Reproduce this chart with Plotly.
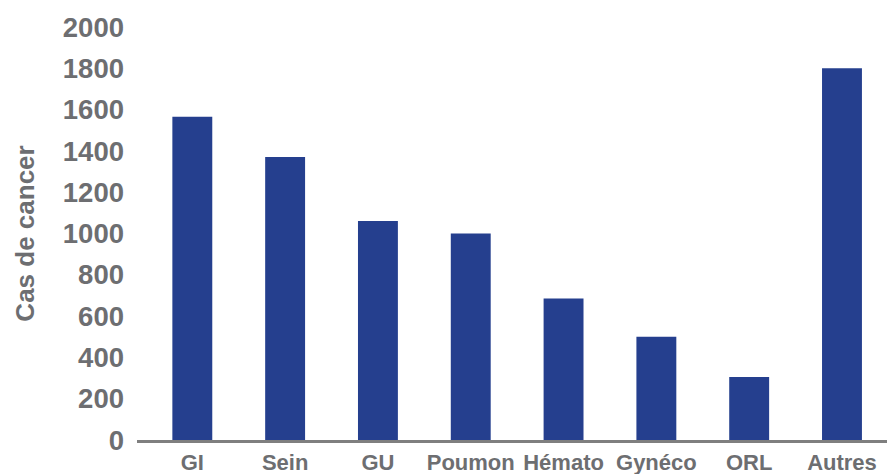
import plotly.graph_objects as go

categories = ["GI", "Sein", "GU", "Poumon", "Hémato", "Gynéco", "ORL", "Autres"]
cases = [1565, 1370, 1060, 1000, 685, 500, 305, 1800]
y_ticks = [0, 200, 400, 600, 800, 1000, 1200, 1400, 1600, 1800, 2000]

BAR = "#253F8E"
GRAY = "#6D6E71"
FONT = "Liberation Sans, Arial, sans-serif"

fig = go.Figure(go.Bar(
    x=list(range(len(categories))),
    y=cases,
    width=0.43,
    marker=dict(color=BAR, line=dict(width=0)),
))

fig.update_layout(
    width=891, height=474,
    margin=dict(l=137, r=4, t=27, b=34, autoexpand=False),
    plot_bgcolor="white", paper_bgcolor="white",
    showlegend=False,
    font=dict(family=FONT, color=GRAY, weight="bold"),
    xaxis=dict(
        range=[-0.596, 7.485],
        tickvals=list(range(len(categories))),
        ticktext=categories,
        tickfont=dict(size=22, family=FONT, color=GRAY, weight="bold"),
        showline=True, linecolor="#7F7F7F", linewidth=2.5,
        showgrid=False, zeroline=False, ticks="",
        ticklabelstandoff=1,
        automargin=False,
    ),
    yaxis=dict(
        range=[0, 2000],
        tickvals=y_ticks,
        tickfont=dict(size=27.5, family=FONT, color=GRAY, weight="bold"),
        showgrid=False, zeroline=False, showline=False, ticks="",
        ticklabelstandoff=12,
        title=dict(text="Cas de cancer", font=dict(size=26, family=FONT, color=GRAY, weight="bold"), standoff=20),
        automargin=False,
    ),
)

fig.write_html("out.html")
